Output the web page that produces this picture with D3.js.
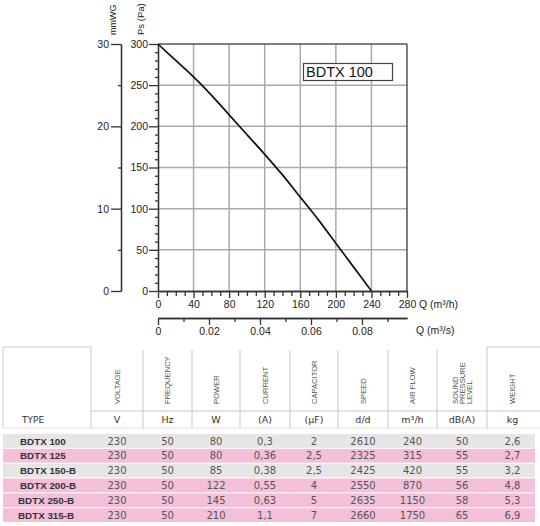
<!DOCTYPE html>
<html>
<head>
<meta charset="utf-8">
<script src="https://cdn.jsdelivr.net/npm/d3@7"></script>
<style>
  html, body { margin: 0; padding: 0; background: #fff; }
  svg { display: block; font-family: "Liberation Sans", Arial, sans-serif; }
</style>
</head>
<body>
<svg id="chart" width="540" height="526"></svg>
<script>
// ---------- chart data ----------
const flowQ      = [0, 20, 40, 60, 80, 100, 120, 140, 160, 180, 200, 220, 240];
const pressurePa = [300, 280, 260, 238, 214, 190, 166, 141, 114, 87, 58, 29, 0];
const xTicks     = [0, 40, 80, 120, 160, 200, 240, 280];
const yTicks     = [0, 50, 100, 150, 200, 250, 300];
const mmwgTicks  = [0, 10, 20, 30];
const mmwgMinor  = [5, 15, 25];
const qsTicks    = [0, 0.02, 0.04, 0.06, 0.08];
const qsMinor    = [0.01, 0.03, 0.05, 0.07, 0.09];
const modelLabel = "BDTX 100";

// ---------- table data ----------
const headers  = ["TYPE", "VOLTAGE", "FREQUENCY", "POWER", "CURRENT", "CAPACITOR", "SPEED", "AIR FLOW", "SOUND\nPRESSURE\nLEVEL", "WEIGHT"];
const units    = ["TYPE", "V", "Hz", "W", "(A)", "(µF)", "d/d", "m³/h", "dB(A)", "kg"];
const models   = ["BDTX 100", "BDTX 125", "BDTX 150-B", "BDTX 200-B", "BDTX 250-B", "BDTX 315-B"];
const voltage  = [230, 230, 230, 230, 230, 230];
const freq     = [50, 50, 50, 50, 50, 50];
const power    = [80, 80, 85, 122, 145, 210];
const current  = [0.3, 0.36, 0.38, 0.55, 0.63, 1.1];
const capacitor= [2, 2.5, 2.5, 4, 5, 7];
const speed    = [2610, 2325, 2425, 2550, 2635, 2660];
const airflow  = [240, 315, 420, 870, 1150, 1750];
const sound    = [50, 55, 55, 56, 58, 65];
const weight   = [2.6, 2.7, 3.2, 4.8, 5.3, 6.9];
const rowShade = ["grey", "pink", "grey", "pink", "pink", "pink"];

// ---------- layout ----------
const svg = d3.select("#chart");
const plot = { left: 158, right: 407, top: 44, bottom: 291 };

const x = d3.scaleLinear().domain([0, 280]).range([plot.left, plot.right]);
const y = d3.scaleLinear().domain([0, 300]).range([plot.bottom, plot.top]);
const yMm = d3.scaleLinear().domain([0, 30]).range([plot.bottom, plot.top]);
const xQs = d3.scaleLinear().domain([0, (plot.right - plot.left) / 2550]).range([plot.left, plot.right]);

const gridColor = "#a9a9a9";
const axisColor = "#333";
const tickFs = 10.5;

// grid
const g = svg.append("g");
g.selectAll("line.vg").data(xTicks.filter(d => d > 0 && d < 280)).join("line")
  .attr("x1", d => x(d)).attr("x2", d => x(d))
  .attr("y1", plot.top).attr("y2", plot.bottom)
  .attr("stroke", gridColor).attr("stroke-width", 1.5);
g.selectAll("line.hg").data(yTicks.filter(d => d > 0 && d < 300)).join("line")
  .attr("x1", plot.left).attr("x2", plot.right)
  .attr("y1", d => y(d)).attr("y2", d => y(d))
  .attr("stroke", gridColor).attr("stroke-width", 1.5);
// top and right borders
g.append("line").attr("x1", plot.left).attr("x2", plot.right).attr("y1", y(300)).attr("y2", y(300))
  .attr("stroke", "#555").attr("stroke-width", 1.5);
g.append("line").attr("x1", x(280)).attr("x2", x(280)).attr("y1", plot.top).attr("y2", plot.bottom)
  .attr("stroke", "#555").attr("stroke-width", 1.5);

function styleAxis(sel) {
  sel.selectAll("path").attr("stroke", axisColor).attr("stroke-width", 1.3);
  sel.selectAll("line").attr("stroke", axisColor).attr("stroke-width", 1.3);
  sel.selectAll("text").attr("fill", "#222").style("font-size", tickFs + "px")
     .style("font-family", "'Liberation Sans', Arial, sans-serif");
}

// Ps axis (left)
const yMinorVals = d3.range(0, 301, 10).filter(d => d % 50 !== 0);
svg.append("g").attr("transform", `translate(${plot.left},0)`)
  .call(d3.axisLeft(y).tickValues(yMinorVals).tickSize(3).tickSizeOuter(0).tickFormat(""))
  .call(styleAxis);
svg.append("g").attr("transform", `translate(${plot.left},0)`)
  .call(d3.axisLeft(y).tickValues(yTicks).tickSize(9).tickSizeOuter(0).tickPadding(1))
  .call(styleAxis);

// mmWG axis
const mmX = 121;
svg.append("g").attr("transform", `translate(${mmX},0)`)
  .call(d3.axisLeft(yMm).tickValues(mmwgMinor).tickSize(3).tickSizeOuter(0).tickFormat(""))
  .call(styleAxis);
svg.append("g").attr("transform", `translate(${mmX},0)`)
  .call(d3.axisLeft(yMm).tickValues(mmwgTicks).tickSize(10).tickSizeOuter(0).tickPadding(2))
  .call(styleAxis);

// bottom Q (m3/h) axis
const xMinorVals = d3.range(0, 281, 10).filter(d => d % 40 !== 0);
svg.append("g").attr("transform", `translate(0,${plot.bottom})`)
  .call(d3.axisBottom(x).tickValues(xMinorVals).tickSize(5).tickSizeOuter(0).tickFormat(""))
  .call(styleAxis);
svg.append("g").attr("transform", `translate(0,${plot.bottom})`)
  .call(d3.axisBottom(x).tickValues(xTicks).tickSize(7).tickSizeOuter(0).tickPadding(3))
  .call(styleAxis);

// second Q (m3/s) axis
const qsY = 318;
svg.append("g").attr("transform", `translate(0,${qsY})`)
  .call(d3.axisBottom(xQs).tickValues(qsMinor).tickSize(4).tickSizeOuter(0).tickFormat(""))
  .call(styleAxis);
svg.append("g").attr("transform", `translate(0,${qsY})`)
  .call(d3.axisBottom(xQs).tickValues(qsTicks).tickSize(7).tickSizeOuter(0).tickPadding(3)
    .tickFormat(d => d === 0 ? "0" : d3.format(".2f")(d)))
  .call(styleAxis);

// axis titles
svg.append("text").attr("x", 419).attr("y", 308).attr("fill", "#222").style("font-size", "10.5px").text("Q (m³/h)");
svg.append("text").attr("x", 416).attr("y", 334).attr("fill", "#222").style("font-size", "10.5px").text("Q (m³/s)");
svg.append("text").attr("transform", "translate(115.5,35) rotate(-90)").attr("fill", "#222")
  .style("font-size", "9px").text("mmWG");
svg.append("text").attr("transform", "translate(144,35) rotate(-90)").attr("fill", "#222")
  .style("font-size", "9.5px").text("Ps (Pa)");

// curve
const line = d3.line().x((d, i) => x(flowQ[i])).y(d => y(d)).curve(d3.curveCatmullRom);
svg.append("path").datum(pressurePa).attr("d", line)
  .attr("fill", "none").attr("stroke", "#111").attr("stroke-width", 1.7);

// model label box
svg.append("rect").attr("x", 303.5).attr("y", 63.5).attr("width", 89).attr("height", 17)
  .attr("fill", "#fff").attr("stroke", "#444").attr("stroke-width", 1.2);
svg.append("text").attr("x", 306).attr("y", 76.5).attr("fill", "#111")
  .style("font-size", "14.5px").text(modelLabel);

// ---------- table ----------
const colEdges = [3, 91, 143, 192, 240, 290, 338, 388, 437, 487, 538];
const colCenter = i => (colEdges[i] + colEdges[i + 1]) / 2;
const tblLine = "#c8c8c8";
const t = svg.append("g");

// header borders
t.append("line").attr("x1", 3).attr("x2", 91).attr("y1", 347).attr("y2", 347).attr("stroke", tblLine);
t.append("line").attr("x1", 487).attr("x2", 540).attr("y1", 347).attr("y2", 347).attr("stroke", tblLine);
t.append("line").attr("x1", 3).attr("x2", 3).attr("y1", 347).attr("y2", 428).attr("stroke", tblLine);
t.append("line").attr("x1", 91).attr("x2", 540).attr("y1", 411).attr("y2", 411).attr("stroke", tblLine);
t.append("line").attr("x1", 3).attr("x2", 540).attr("y1", 428).attr("y2", 428).attr("stroke", "#e2e2e2");
t.selectAll("line.cv").data(colEdges.slice(1, 10)).join("line")
  .attr("x1", d => d).attr("x2", d => d)
  .attr("y1", (d, i) => (i === 0 || i === 8) ? 347 : 350).attr("y2", 428)
  .attr("stroke", tblLine);

// rotated headers
headers.forEach((h, i) => {
  if (i === 0) return;
  const lines = h.split("\n");
  const lh = 6.8;
  lines.forEach((ln, j) => {
    const cx = colCenter(i) + 2.7 + (j - (lines.length - 1) / 2) * lh;
    t.append("text").attr("transform", `translate(${cx},404) rotate(-90)`)
      .attr("fill", "#555").style("font-size", "7.6px").text(ln);
  });
});

// units row
units.forEach((u, i) => {
  t.append("text")
    .attr("x", i === 0 ? 22 : colCenter(i)).attr("y", 423)
    .attr("text-anchor", i === 0 ? "start" : "middle")
    .attr("fill", "#333")
    .style("font-family", "'DejaVu Sans', sans-serif")
    .style("font-size", i === 0 ? "9px" : "9.5px")
    .text(u);
});

// rows
const rowScale = d3.scaleBand().domain(d3.range(models.length)).range([434, 522]).paddingInner(0.07);
const shadeColor = { grey: "#e6e6e6", pink: "#f4bfd8" };
const fmt = v => String(v).replace(".", ",");
const cols = [voltage, freq, power, current, capacitor, speed, airflow, sound, weight];

models.forEach((m, r) => {
  const y0 = rowScale(r), bh = rowScale.bandwidth();
  t.append("rect").attr("x", 3).attr("y", y0).attr("width", 532).attr("height", bh)
    .attr("fill", shadeColor[rowShade[r]]);
  const yb = y0 + bh / 2 + 3.6;
  t.append("text").attr("x", r >= 4 ? 18 : 20).attr("y", yb).attr("fill", "#333")
    .style("font-size", "9.8px").style("font-weight", "bold")
    .style("font-family", "'Liberation Sans', Arial, sans-serif").text(m);
  cols.forEach((arr, c) => {
    t.append("text").attr("x", colCenter(c + 1)).attr("y", yb).attr("text-anchor", "middle")
      .attr("fill", "#555").style("font-size", "10px")
      .style("font-family", "'DejaVu Sans', sans-serif")
      .text(fmt(arr[r]));
  });
});
</script>
</body>
</html>
